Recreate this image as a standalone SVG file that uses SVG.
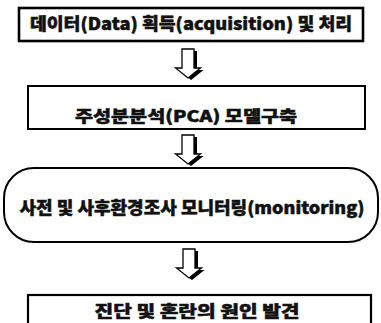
<svg xmlns="http://www.w3.org/2000/svg" width="381" height="323" viewBox="0 0 381 323">
<style>
  .box { fill: #ffffff; stroke: #000000; }
  .lbl { font-family: "Noto Sans CJK KR", "Noto Sans", sans-serif; font-weight: 900; fill: #111111; stroke: #111111; stroke-width: 0.5; text-anchor: middle; }
  .arr { fill: #ffffff; stroke: #000000; stroke-width: 1.3; stroke-linejoin: miter; }
  .shd { fill: #000000; }
</style>
<defs>
  <path id="arrowShape" d="M -6 0 L 6 0 L 6 19 L 12.5 19 L 0 29 L -12.5 19 L -6 19 Z"/>
  <g id="downArrow">
    <use href="#arrowShape" class="shd" transform="translate(3,2)"/>
    <use href="#arrowShape" class="arr"/>
  </g>
</defs>
<rect x="0" y="0" width="381" height="323" fill="#ffffff"/>

<g id="connectors">
  <use href="#downArrow" transform="translate(188,49)"/>
  <use href="#downArrow" transform="translate(188,135)"/>
  <use href="#downArrow" transform="translate(189,249)"/>
</g>

<g id="node-data">
  <rect class="box" x="19" y="8" width="344" height="33" stroke-width="2.6"/>
  <text class="lbl" x="191" y="30" font-size="17" textLength="322" lengthAdjust="spacingAndGlyphs">데이터(Data) 획득(acquisition) 및 처리</text>
</g>

<g id="node-pca">
  <rect class="box" x="28" y="86" width="337" height="43" stroke-width="2"/>
  <text class="lbl" x="186" y="122" font-size="16" textLength="222" lengthAdjust="spacingAndGlyphs">주성분분석(PCA) 모델구축</text>
</g>

<g id="node-monitoring">
  <rect class="box" x="4" y="168" width="374" height="74" rx="30" ry="30" stroke-width="2"/>
  <text class="lbl" x="192" y="214" font-size="17" textLength="345" lengthAdjust="spacingAndGlyphs">사전 및 사후환경조사 모니터링(monitoring)</text>
</g>

<g id="node-diagnosis">
  <rect class="box" x="28" y="295" width="343" height="40" stroke-width="2.2"/>
  <text class="lbl" x="197" y="317" font-size="16" textLength="205" lengthAdjust="spacingAndGlyphs">진단 및 혼란의 원인 발견</text>
</g>
</svg>
